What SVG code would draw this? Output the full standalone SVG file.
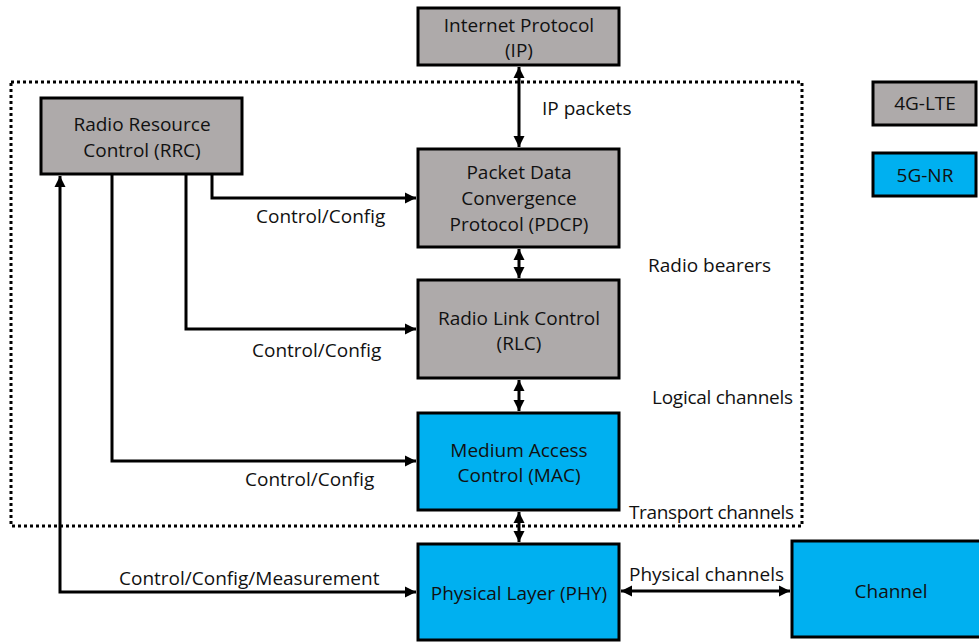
<svg xmlns="http://www.w3.org/2000/svg" width="979" height="643" viewBox="0 0 979 643">
<style>
.g{fill:#AEAAAA;stroke:#000;stroke-width:3}
.b{fill:#00B0F0;stroke:#000;stroke-width:3}
text{font-family:"Open Sans","Liberation Sans",sans-serif;font-size:19px;fill:#111;dominant-baseline:central}
.c{text-anchor:middle}
.w{fill:none;stroke:#000;stroke-width:3}
.dot{fill:none;stroke:#000;stroke-width:3;stroke-dasharray:3 3}
</style>
<defs>
<marker id="ah" markerUnits="userSpaceOnUse" markerWidth="12" markerHeight="12" viewBox="0 0 12 12" refX="11" refY="6" orient="auto-start-reverse">
<path d="M0,0.5 L11,6 L0,11.5 Z" fill="#000"/>
</marker>
</defs>
<rect class="dot" x="11" y="82" width="791" height="444"/>
<g id="connectors">
<path class="w" d="M519,67 V147" marker-start="url(#ah)" marker-end="url(#ah)"/>
<path class="w" d="M519,249 V278" marker-start="url(#ah)" marker-end="url(#ah)"/>
<path class="w" d="M519,380 V411" marker-start="url(#ah)" marker-end="url(#ah)"/>
<path class="w" d="M519,512 V542" marker-start="url(#ah)" marker-end="url(#ah)"/>
<path class="w" d="M621,591 H790" marker-start="url(#ah)" marker-end="url(#ah)"/>
<path class="w" d="M212,175 V198 H416" marker-end="url(#ah)"/>
<path class="w" d="M186,175 V329 H416" marker-end="url(#ah)"/>
<path class="w" d="M112,175 V461 H416" marker-end="url(#ah)"/>
<path class="w" d="M60,176 V592 H416" marker-start="url(#ah)" marker-end="url(#ah)"/>
<text x="542" y="108">IP packets</text>
<text x="256" y="216">Control/Config</text>
<text x="252" y="350">Control/Config</text>
<text x="245" y="479">Control/Config</text>
<text x="119" y="578">Control/Config/Measurement</text>
<text x="648" y="265">Radio bearers</text>
<text x="652" y="397" textLength="141">Logical channels</text>
<text x="629" y="512" textLength="165">Transport channels</text>
<text x="629" y="574">Physical channels</text>
</g>
<g id="ip"><rect class="g" x="418" y="8" width="201" height="57"/>
<text class="c" x="519" y="25">Internet Protocol</text><text class="c" x="519" y="50">(IP)</text></g>
<g id="rrc"><rect class="g" x="41" y="98" width="201" height="76"/>
<text class="c" x="142" y="124">Radio Resource</text><text class="c" x="142" y="150">Control (RRC)</text></g>
<g id="pdcp"><rect class="g" x="418" y="149" width="201" height="98"/>
<text class="c" x="519" y="172">Packet Data</text><text class="c" x="519" y="198">Convergence</text><text class="c" x="519" y="224">Protocol (PDCP)</text></g>
<g id="rlc"><rect class="g" x="418" y="280" width="201" height="98"/>
<text class="c" x="519" y="318">Radio Link Control</text><text class="c" x="519" y="343">(RLC)</text></g>
<g id="mac"><rect class="b" x="418" y="413" width="201" height="97"/>
<text class="c" x="519" y="450">Medium Access</text><text class="c" x="519" y="475">Control (MAC)</text></g>
<g id="phy"><rect class="b" x="418" y="544" width="201" height="96"/>
<text class="c" x="519" y="593">Physical Layer (PHY)</text></g>
<g id="channel"><rect class="b" x="792" y="541" width="200" height="96"/>
<text class="c" x="891" y="591">Channel</text></g>
<g id="legend-4g"><rect class="g" x="873" y="82" width="103" height="43"/>
<text class="c" x="925" y="103">4G-LTE</text></g>
<g id="legend-5g"><rect class="b" x="873" y="153" width="103" height="43"/>
<text class="c" x="925" y="175">5G-NR</text></g>
</svg>
